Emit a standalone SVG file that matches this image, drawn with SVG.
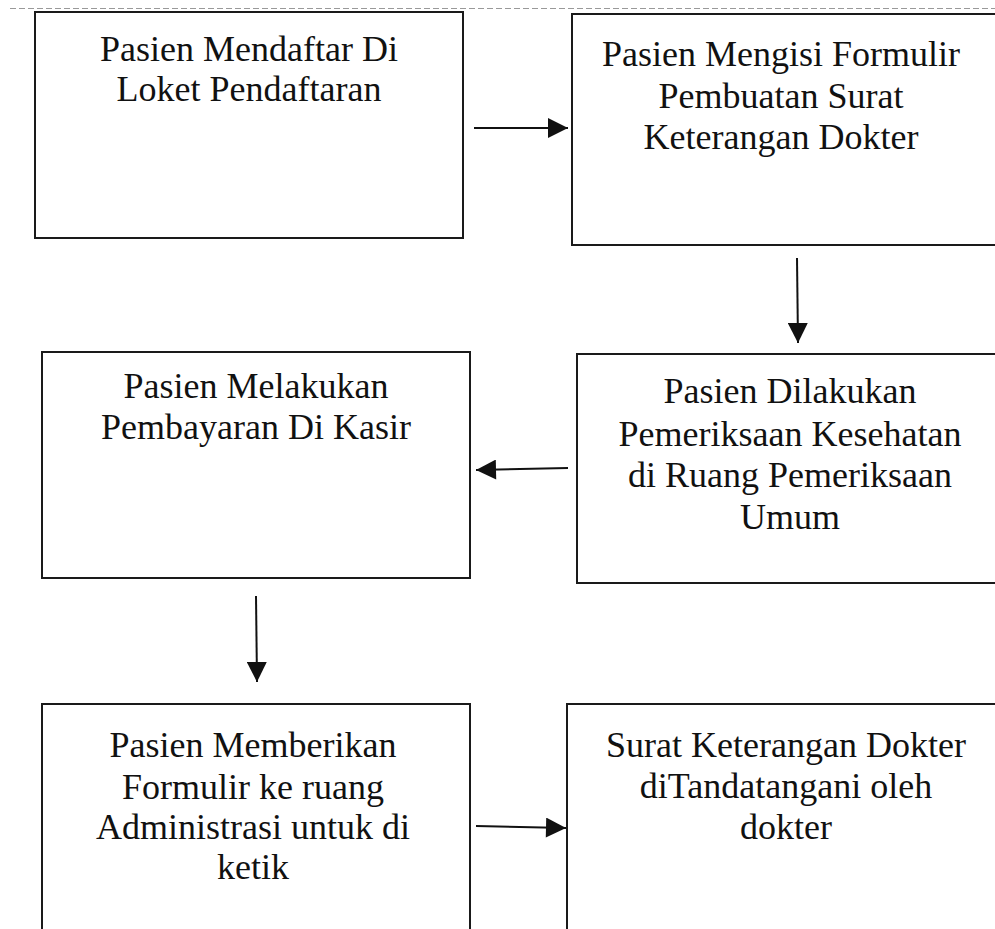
<svg xmlns="http://www.w3.org/2000/svg" width="995" height="929" viewBox="0 0 995 929">
<style>
.box{fill:#fff;stroke:#1a1a1a;stroke-width:2}
.t{font-family:"Liberation Serif","Times New Roman",serif;font-size:36px;fill:#111;text-anchor:middle}
.c{stroke:#111;stroke-width:2;fill:none;marker-end:url(#ah)}
</style>
<defs>
<marker id="ah" viewBox="0 0 10 10" refX="10" refY="5" markerWidth="21" markerHeight="20" markerUnits="userSpaceOnUse" orient="auto">
<path d="M0,0 L10,5 L0,10 z" fill="#111"/>
</marker>
</defs>
<rect width="995" height="929" fill="#fff"/>
<line x1="10" y1="8.5" x2="995" y2="8.5" stroke="#999" stroke-width="1" stroke-dasharray="6 3"/>
<g id="node1">
<rect class="box" x="35" y="12" width="428" height="226"/>
<text class="t" x="249" y="61">Pasien Mendaftar Di</text>
<text class="t" x="249" y="101">Loket Pendaftaran</text>
</g>
<g id="node2">
<rect class="box" x="572" y="14" width="440" height="231"/>
<text class="t" x="781" y="66">Pasien Mengisi Formulir</text>
<text class="t" x="781" y="108">Pembuatan Surat</text>
<text class="t" x="781" y="149">Keterangan Dokter</text>
</g>
<g id="node3">
<rect class="box" x="577" y="354" width="440" height="229"/>
<text class="t" x="790" y="403">Pasien Dilakukan</text>
<text class="t" x="790" y="446">Pemeriksaan Kesehatan</text>
<text class="t" x="790" y="487">di Ruang Pemeriksaan</text>
<text class="t" x="790" y="529">Umum</text>
</g>
<g id="node4">
<rect class="box" x="42" y="352" width="428" height="226"/>
<text class="t" x="256" y="398">Pasien Melakukan</text>
<text class="t" x="256" y="439">Pembayaran Di Kasir</text>
</g>
<g id="node5">
<rect class="box" x="42" y="704" width="428" height="240"/>
<text class="t" x="253" y="757">Pasien Memberikan</text>
<text class="t" x="253" y="799">Formulir ke ruang</text>
<text class="t" x="253" y="839">Administrasi untuk di</text>
<text class="t" x="253" y="879">ketik</text>
</g>
<g id="node6">
<rect class="box" x="567" y="704" width="450" height="240"/>
<text class="t" x="786" y="757">Surat Keterangan Dokter</text>
<text class="t" x="786" y="798">diTandatangani oleh</text>
<text class="t" x="786" y="839">dokter</text>
</g>
<g id="connectors">
<line class="c" x1="474" y1="128" x2="568" y2="128"/>
<line class="c" x1="797" y1="258" x2="798" y2="343"/>
<line class="c" x1="568" y1="468" x2="476" y2="470"/>
<line class="c" x1="256" y1="596" x2="257" y2="682"/>
<line class="c" x1="476" y1="826" x2="566" y2="828"/>
</g>
</svg>
